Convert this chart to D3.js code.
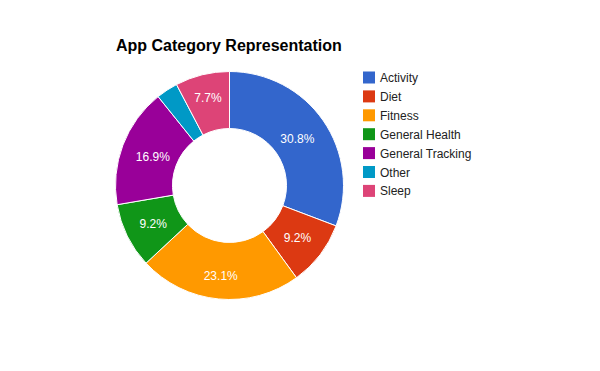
<!DOCTYPE html>
<html><head><meta charset="utf-8">
<script src="https://cdn.jsdelivr.net/npm/d3@7"></script>
<style>body{margin:0;background:#fff}svg{display:block}</style>
</head><body>
<svg id="c" width="600" height="371"></svg>
<script>
const categories = ["Activity","Diet","Fitness","General Health","General Tracking","Other","Sleep"];
const values = [20,6,15,6,11,2,5];
const colors = ["#3366cc","#dc3912","#ff9900","#109618","#990099","#0099c6","#dd4477"];
const title = "App Category Representation";

const svg = d3.select("#c");
svg.append("rect").attr("width",600).attr("height",371).attr("fill","#fff");
svg.append("text").attr("x",116).attr("y",51).text(title)
  .attr("font-family","Arial, 'Liberation Sans', sans-serif").attr("font-weight","bold")
  .attr("font-size",16).attr("fill","#000");

const cx = 229.5, cy = 185.5, R = 114, r = 57;
const total = d3.sum(values);
const pie = d3.pie().sort(null).value(d=>d);
const arcs = pie(values);
const arc = d3.arc().innerRadius(r).outerRadius(R);
const g = svg.append("g").attr("transform",`translate(${cx},${cy})`);
g.selectAll("path").data(arcs).join("path")
  .attr("d",arc).attr("fill",(d,i)=>colors[i]).attr("stroke","#fff").attr("stroke-width",1);
const T = 100, hh = 6;
g.selectAll("text").data(arcs.filter(d=>d.value/total>=0.05)).join("text")
  .attr("text-anchor","middle").attr("dy","0.36em")
  .attr("font-family","Arial, 'Liberation Sans', sans-serif").attr("font-size",12)
  .attr("fill","#fff")
  .text(d=>(d.value/total*100).toFixed(1)+"%")
  .attr("transform",function(d){
    const w = this.getComputedTextLength()/2;
    const a = (d.startAngle+d.endAngle)/2;
    const ux = Math.sin(a), uy = -Math.cos(a);
    const b = w*Math.abs(ux)+hh*Math.abs(uy);
    const c = w*w+hh*hh-T*T;
    const dist = -b+Math.sqrt(b*b-c);
    return `translate(${dist*ux},${dist*uy})`;
  });

const lg = svg.append("g");
const rows = lg.selectAll("g").data(categories).join("g")
  .attr("transform",(d,i)=>`translate(363,${71.5+i*18.9})`);
rows.append("rect").attr("width",12).attr("height",12).attr("fill",(d,i)=>colors[i]);
rows.append("text").attr("x",17).attr("y",10.5).text(d=>d)
  .attr("font-family","Arial, 'Liberation Sans', sans-serif").attr("font-size",12).attr("fill","#222");
</script>
</body></html>
